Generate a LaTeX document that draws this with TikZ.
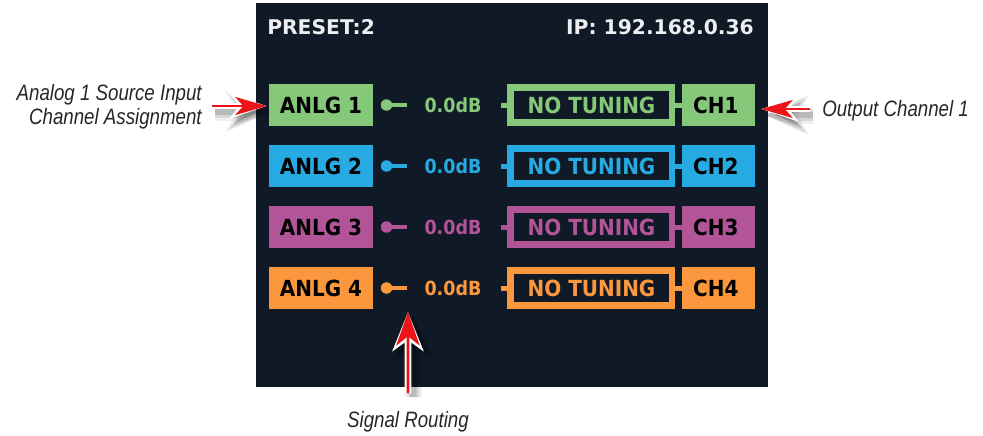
\documentclass[tikz,border=0pt]{standalone}
\usepackage{fontspec}
\newfontfamily\hdfont{DejaVu Sans Bold}
\newfontfamily\boxfont{DejaVu Sans Bold}[FakeStretch=0.9]
\newfontfamily\callfont{Liberation Sans Italic}[FakeStretch=0.84]
\usetikzlibrary{arrows.meta}
\definecolor{cGreen}{RGB}{134,200,122}
\definecolor{cBlue}{RGB}{39,169,225}
\definecolor{cPurple}{RGB}{177,85,152}
\definecolor{cOrange}{RGB}{251,152,62}
\definecolor{cPanel}{RGB}{16,26,38}
\definecolor{cHead}{RGB}{236,238,240}
\definecolor{cArrow}{RGB}{236,20,24}
\tikzset{
  panelbox/.style={fill=cPanel, draw=none, minimum width=384pt, minimum height=288pt, inner sep=0pt},
  headtext/.style={text=cHead, font=\hdfont\fontsize{15.2}{17}\selectfont, inner sep=0pt},
  boxtext/.style={font=\boxfont\fontsize{16.65}{18}\selectfont, text=black, text height=12.1pt, text depth=0pt},
  anlgbox/.style={boxtext, minimum width=78pt, minimum height=31.5pt, inner sep=0pt},
  chbox/.style={boxtext, minimum width=54.75pt, minimum height=31.5pt, inner sep=0pt},
  tunframe/.style={minimum width=126pt, minimum height=31.5pt, inner sep=0pt},
  tuninner/.style={boxtext, fill=cPanel, minimum width=116.25pt, minimum height=21pt, inner sep=0pt},
  keydot/.style={circle, minimum size=8.6pt, inner sep=0pt},
  keybar/.style={line width=3.7pt},
  stub/.style={line width=3.75pt},
  dbtext/.style={font=\boxfont\fontsize{14.6}{16}\selectfont, text height=10.5pt, text depth=0pt, inner sep=0pt},
  callout/.style={font=\callfont\fontsize{16.7}{17.7}\selectfont, text=black!85, inner sep=0pt},
  callarrow/.style={
    preaction={draw=black, opacity=0.06, line width=13pt, -{Stealth[length=33pt,width=30pt,inset=8pt]}, transform canvas={shift={(2.5pt,-4.5pt)}}},
    preaction={draw=black, opacity=0.10, line width=9pt, -{Stealth[length=30pt,width=25pt,inset=7.5pt]}, transform canvas={shift={(2.5pt,-4.5pt)}}},
    preaction={draw=black, opacity=0.14, line width=5pt, -{Stealth[length=27pt,width=19pt,inset=7pt]}, transform canvas={shift={(2.5pt,-4.5pt)}}},
    preaction={draw=white, line width=5.2pt, -{Stealth[length=27.5pt,width=18.5pt,inset=7pt]}},
    draw=cArrow, line width=2.1pt, shorten >=1.6pt,
    -{Stealth[length=23.5pt,width=13.5pt,inset=6pt]}
  },
  callarrowup/.style={
    preaction={draw=black, opacity=0.06, line width=13pt, -{Stealth[length=35pt,width=35pt,inset=9pt]}, transform canvas={shift={(4pt,-3pt)}}},
    preaction={draw=black, opacity=0.10, line width=9pt, -{Stealth[length=32pt,width=30pt,inset=8.5pt]}, transform canvas={shift={(4pt,-3pt)}}},
    preaction={draw=black, opacity=0.14, line width=5pt, -{Stealth[length=29pt,width=24pt,inset=8pt]}, transform canvas={shift={(4pt,-3pt)}}},
    preaction={draw=white, line width=5.2pt, -{Stealth[length=29pt,width=23pt,inset=8pt]}},
    draw=cArrow, line width=2.1pt, shorten >=1.6pt,
    -{Stealth[length=25pt,width=17.5pt,inset=7pt]}
  }
}
\begin{document}
\begin{tikzpicture}[x=0.75pt, y=-0.75pt]
\useasboundingbox (0,0) rectangle (983,436);
\node[panelbox] (panel) at (512,195) {};
\node[headtext, anchor=base west] (preset) at (267,34) {PRESET:2};
\node[headtext, anchor=base east] (ip) at (754,34) {IP: 192.168.0.36};
\foreach \i/\y/\c in {1/105/cGreen, 2/166/cBlue, 3/227/cPurple, 4/288/cOrange}{
  \node[anlgbox, fill=\c] (a\i) at (321,\y) {ANLG \i};
  \node[keydot, fill=\c] (k\i) at (386.5,\y) {};
  \coordinate (kb\i) at (406.5,\y);
  \draw[keybar, draw=\c] (k\i.center) -- (kb\i);
  \node[dbtext, text=\c] (d\i) at (453,\y) {0.0dB};
  \coordinate (t\i) at (501,\y);
  \node[tunframe, fill=\c] (f\i) at (591,\y) {};
  \node[tuninner, text=\c] (n\i) at (591.5,\y) {NO TUNING};
  \node[chbox, fill=\c] (c\i) at (718.5,\y) {CH\i\hspace*{4pt}};
  \draw[stub, draw=\c] (t\i) -- (f\i.west);
  \draw[stub, draw=\c] (f\i.east) -- (c\i.west);
}
\node[callout, anchor=base east, align=right] (lab1) at (202,124) {Analog 1 Source Input\\Channel Assignment};
\node[callout, anchor=base west] (lout) at (822,116) {Output Channel 1};
\node[callout, anchor=base] (lsig) at (408,427) {Signal Routing};
\coordinate (lt) at (212,106);
\coordinate (rt) at (810,109);
\coordinate (ut) at (408,393);
\draw[callarrow] (lt) -- ([yshift=-0.75pt]a1.west);
\draw[callarrow] (rt) -- ([xshift=3pt,yshift=-3pt]c1.east);
\draw[callarrowup] (ut) -- ([xshift=1.1pt,yshift=-16.5pt]kb4);
\end{tikzpicture}
\end{document}
